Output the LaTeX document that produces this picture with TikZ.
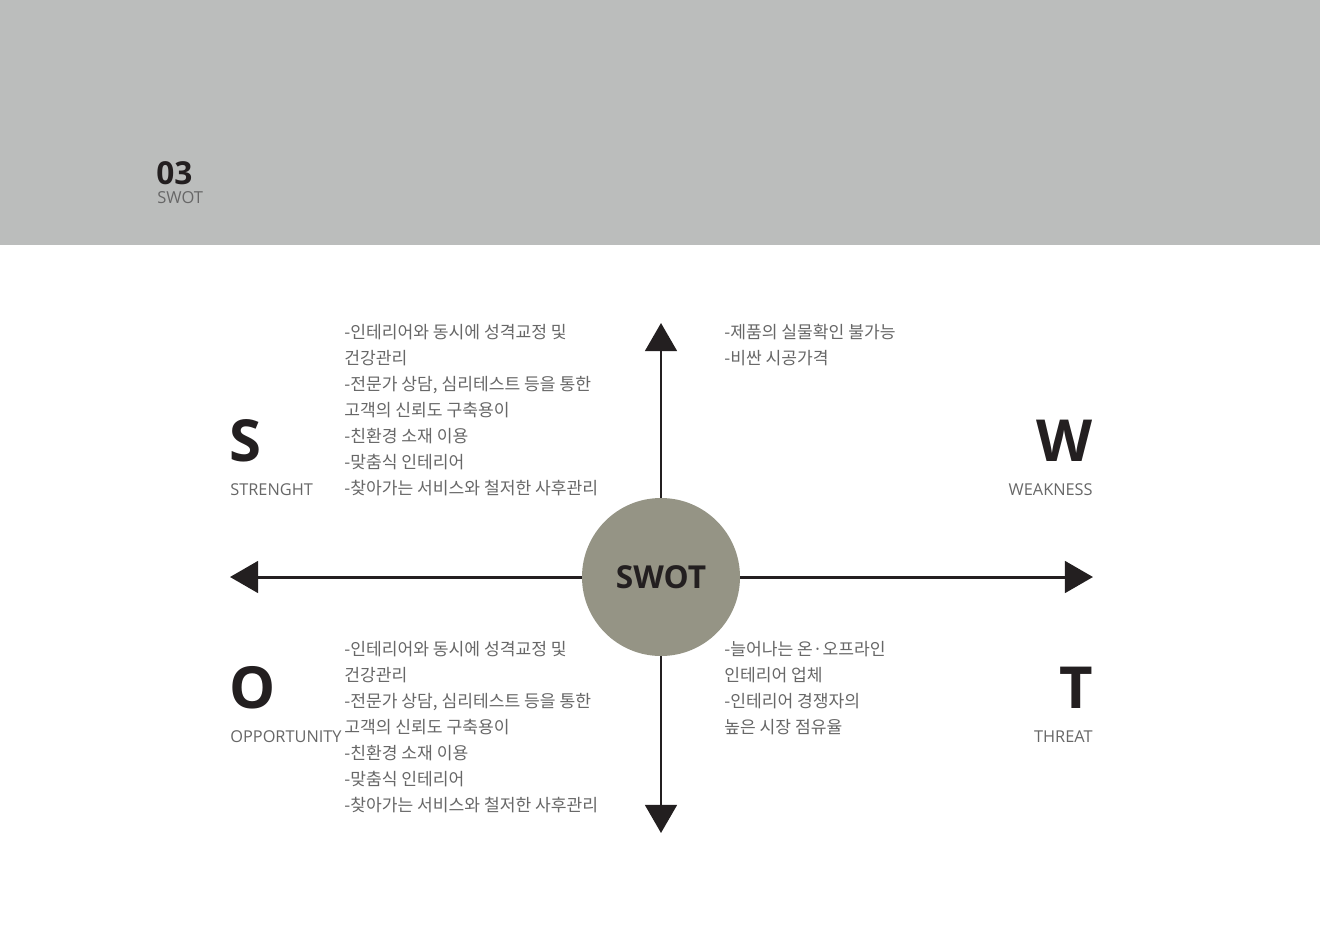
\documentclass[tikz,border=0pt]{standalone}
\usepackage{fontspec}
\setmainfont{Open Sans}
\newfontfamily\kr{Noto Sans CJK KR}
\usetikzlibrary{arrows.meta}

\definecolor{bandgray}{HTML}{BBBDBC}
\definecolor{hubgray}{HTML}{959485}
\definecolor{inkdark}{HTML}{231F20}
\definecolor{notegray}{HTML}{676767}

\tikzset{
  axis/.style={line width=1.7pt, inkdark, -{Triangle[length=16pt,width=18pt]}},
  hub/.style={circle, fill=hubgray, minimum size=158*0.02cm, inner sep=0pt,
    text=inkdark, font=\fontsize{18}{18}\selectfont\bfseries},
  bigletter/.style={inner sep=0pt, text=inkdark, font=\fontsize{33}{33}\selectfont\bfseries},
  quadlabel/.style={inner sep=0pt, text=notegray, font=\fontsize{9.3}{9.3}\selectfont},
  notes/.style={inner sep=0pt, anchor=north west, align=left, text=notegray,
    font=\kr\fontsize{9.75}{14.75}\selectfont}
}

\begin{document}
\begin{tikzpicture}[x=0.02cm, y=-0.02cm]
\useasboundingbox (0,0) rectangle (1320,934);
\fill[white] (0,0) rectangle (1320,934);
\fill[bandgray] (0,0) rectangle (1320,245);

% page heading
\node[inner sep=0pt, anchor=base west, text=inkdark, font=\fontsize{18}{18}\selectfont\bfseries] (num) at (156,184) {03};
\node[inner sep=0pt, anchor=base west, text=notegray, font=\fontsize{9.4}{9.4}\selectfont] (title) at (157,203) {SWOT};

% axes
\node[hub] (swot) at (661,577) {SWOT};
\coordinate (north) at (661,323);
\coordinate (south) at (661,833);
\coordinate (west) at (230,577);
\coordinate (east) at (1093,577);
\draw[axis] (swot.north) -- (north);
\draw[axis] (swot.south) -- (south);
\draw[axis] (swot.west) -- (west);
\draw[axis] (swot.east) -- (east);

% quadrant letters
\node[bigletter, anchor=west] (s) at (229,441) {S};
\node[quadlabel, anchor=west] (slabel) at (230,490) {STRENGHT};
\node[bigletter, anchor=east] (w) at (1093,441) {W};
\node[quadlabel, anchor=east] (wlabel) at (1093,490) {WEAKNESS};
\node[bigletter, anchor=west] (o) at (229,688) {O};
\node[quadlabel, anchor=west] (olabel) at (230,737) {OPPORTUNITY};
\node[bigletter, anchor=east] (t) at (1093,688) {T};
\node[quadlabel, anchor=east] (tlabel) at (1093,737) {THREAT};

% notes
\node[notes] (snotes) at (344,324) {-인테리어와 동시에 성격교정 및\\건강관리\\-전문가 상담, 심리테스트 등을 통한\\고객의 신뢰도 구축용이\\-친환경 소재 이용\\-맞춤식 인테리어\\-찾아가는 서비스와 철저한 사후관리};
\node[notes] (wnotes) at (724,324) {-제품의 실물확인 불가능\\-비싼 시공가격};
\node[notes] (onotes) at (344,641) {-인테리어와 동시에 성격교정 및\\건강관리\\-전문가 상담, 심리테스트 등을 통한\\고객의 신뢰도 구축용이\\-친환경 소재 이용\\-맞춤식 인테리어\\-찾아가는 서비스와 철저한 사후관리};
\node[notes] (tnotes) at (724,641) {-늘어나는 온·오프라인\\인테리어 업체\\-인테리어 경쟁자의\\높은 시장 점유율};
\end{tikzpicture}
\end{document}
